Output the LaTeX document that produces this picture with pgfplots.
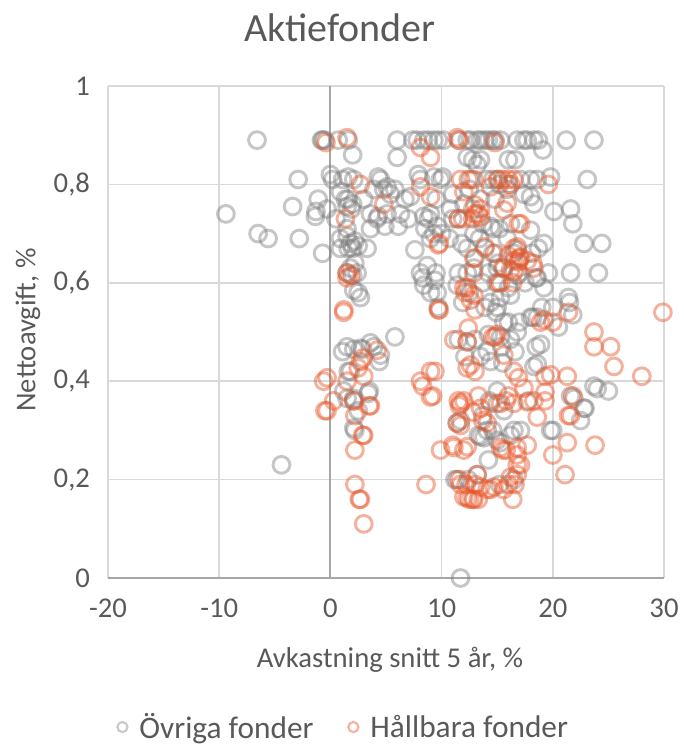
\documentclass[border=0pt]{standalone}
\usepackage{fontspec}
\setmainfont{Carlito}
\usepackage{pgfplots}
\pgfplotsset{compat=1.18}
\definecolor{txt}{RGB}{89,89,89}
\definecolor{gridc}{RGB}{217,217,217}
\definecolor{axisc}{RGB}{166,166,166}
\definecolor{grayc}{RGB}{120,120,120}
\definecolor{orangec}{RGB}{230,85,40}
\begin{document}
\begin{tikzpicture}
\useasboundingbox (0,0) rectangle (513pt,567pt);
\begin{axis}[
  at={(81pt,133.5pt)}, anchor=south west,
  scale only axis, width=417pt, height=369pt,
  xmin=-20, xmax=30, ymin=0, ymax=1,
  clip=false,
  axis line style={draw=none},
  major tick length=0pt,
  xtick={-20,-10,0,10,20,30},
  xticklabels={-20,-10,0,10,20,30},
  ytick={0,0.2,0.4,0.6,0.8,1},
  yticklabels={0,{0,2},{0,4},{0,6},{0,8},1},
  xticklabel style={font=\fontsize{21.5}{24}\selectfont, text=txt, yshift=-12pt},
  yticklabel style={font=\fontsize{21.5}{24}\selectfont, text=txt, xshift=-10pt},
  grid=major,
  major grid style={draw=gridc, line width=1.1pt},
  extra x ticks={0}, extra x tick labels={},
  extra y ticks={0}, extra y tick labels={},
  extra tick style={major grid style={draw=axisc, line width=1.5pt}},
  legend columns=2,
  legend style={at={(0.4245,-0.303)}, anchor=center, draw=none, fill=none,
    font=\fontsize{23.5}{27}\selectfont, text=txt,
    /tikz/every odd column/.append style={column sep=7pt},
    /tikz/every even column/.append style={column sep=24pt}},
]
\addlegendimage{only marks, mark=o, mark size=3.8pt, mark options={draw=grayc, draw opacity=0.4, line width=1.6pt}}
\addlegendentry{Övriga fonder}
\addlegendimage{only marks, mark=o, mark size=3.8pt, mark options={draw=orangec, draw opacity=0.45, line width=1.6pt}}
\addlegendentry{Hållbara fonder}

% Övriga fonder
\addplot[forget plot, only marks, mark=o, mark size=6.3pt, mark options={draw=grayc, draw opacity=0.42, line width=2.2pt}] coordinates {
(-6.6,0.89)(-0.8,0.89)(-0.7,0.89)(-0.5,0.89)(0.7,0.89)(1.6,0.89)(6.0,0.89)(7.4,0.89)(7.8,0.89)(8.4,0.89)(8.8,0.89)(9.3,0.89)(9.7,0.89)(10.2,0.89)(11.5,0.89)(12.3,0.89)(12.6,0.89)(13.2,0.89)(13.5,0.89)(13.9,0.89)(14.2,0.89)(14.6,0.89)(14.8,0.89)(15.3,0.89)(16.8,0.89)(17.4,0.89)(17.7,0.89)(18.3,0.89)(18.7,0.89)(21.2,0.89)(23.7,0.89)
(2.0,0.86)(6.0,0.855)(12.3,0.855)(12.8,0.85)(13.2,0.84)(13.5,0.85)(16.0,0.85)(16.6,0.85)(19.1,0.87)
(-2.9,0.81)(0.0,0.82)(0.2,0.81)(1.1,0.81)(1.6,0.815)(2.1,0.81)(4.3,0.815)(4.5,0.81)(7.9,0.82)(8.1,0.81)(9.3,0.815)(9.9,0.81)(10.1,0.815)(12.6,0.81)(14.1,0.81)(14.6,0.81)(15.1,0.81)(17.1,0.81)(18.0,0.81)(18.6,0.81)(19.8,0.815)(23.1,0.81)(15.2,0.80)(16.0,0.80)
(-1.1,0.77)(0.9,0.785)(1.35,0.77)(1.6,0.77)(2.0,0.76)(3.0,0.77)(3.9,0.79)(4.8,0.79)(5.1,0.795)(5.4,0.78)(5.8,0.79)(6.7,0.77)(7.2,0.775)(13.5,0.77)(15.9,0.79)(18.0,0.775)(18.3,0.76)(17.4,0.78)(14.8,0.77)(12.5,0.79)(11.0,0.78)(9.5,0.77)(10.8,0.75)(12.0,0.76)
(-9.4,0.74)(-3.4,0.755)(-1.3,0.745)(-1.35,0.735)(-0.3,0.75)(0.5,0.73)(1.5,0.755)(1.9,0.75)(1.5,0.71)(3.6,0.74)(4.2,0.73)(4.3,0.735)(5.1,0.74)(6.1,0.715)(6.3,0.74)(7.0,0.73)(8.4,0.735)(8.8,0.73)(9.0,0.74)(3.6,0.71)(4.9,0.715)(9.3,0.70)(9.6,0.715)(10.0,0.70)(11.5,0.73)(12.8,0.75)(13.7,0.72)(14.4,0.715)(16.2,0.72)(18.0,0.707)(20.1,0.745)(21.6,0.75)(21.8,0.72)(15.2,0.71)(14.6,0.71)(11.0,0.73)
(-6.5,0.70)(-5.6,0.69)(-2.8,0.69)(-0.7,0.66)(0.9,0.69)(0.9,0.67)(1.5,0.695)(1.8,0.68)(2.0,0.67)(1.6,0.67)(2.2,0.685)(2.5,0.675)(3.3,0.67)(7.6,0.667)(8.5,0.71)(9.0,0.69)(10.7,0.69)(11.8,0.68)(12.3,0.67)(12.9,0.70)(13.4,0.69)(13.9,0.67)(15.9,0.69)(16.5,0.66)(16.8,0.667)(18.1,0.66)(18.7,0.67)(19.2,0.68)(22.8,0.68)(24.4,0.68)
(1.5,0.62)(1.8,0.63)(2.0,0.615)(2.4,0.62)(2.2,0.64)(8.7,0.635)(8.1,0.62)(8.3,0.61)(8.4,0.595)(9.4,0.605)(9.5,0.62)(11.4,0.595)(11.5,0.62)(12.3,0.62)(12.9,0.63)(13.0,0.65)(13.7,0.60)(14.2,0.62)(14.6,0.66)(15.0,0.63)(15.1,0.64)(15.5,0.63)(14.9,0.60)(16.0,0.59)(16.8,0.615)(17.0,0.62)(17.5,0.60)(18.6,0.61)(18.5,0.61)(19.2,0.59)(19.6,0.62)(21.6,0.62)(24.1,0.62)
(2.1,0.585)(2.5,0.58)(2.7,0.57)(9.0,0.58)(9.6,0.58)(9.7,0.55)(11.9,0.56)(12.5,0.58)(13.9,0.55)(14.4,0.56)(15.0,0.55)(15.3,0.57)(16.2,0.575)(14.9,0.54)(17.0,0.52)(16.0,0.52)(15.6,0.52)(18.0,0.53)(18.2,0.53)(18.6,0.53)(19.0,0.55)(20.0,0.55)(21.4,0.57)(21.5,0.56)(21.8,0.535)(20.5,0.51)
(5.8,0.49)(1.1,0.46)(1.5,0.47)(2.1,0.465)(2.7,0.467)(2.9,0.465)(3.6,0.478)(3.9,0.47)(4.4,0.44)(4.5,0.453)(1.8,0.42)(1.6,0.42)(11.5,0.485)(12.3,0.48)(13.0,0.485)(14.2,0.495)(15.3,0.49)(16.8,0.50)(16.2,0.485)(14.1,0.46)(15.4,0.47)(16.6,0.46)(18.9,0.475)(18.5,0.47)(14.4,0.44)(15.5,0.437)(18.3,0.43)(13.5,0.45)(12.1,0.45)(18.6,0.435)
(1.2,0.38)(1.5,0.365)(2.1,0.36)(2.1,0.365)(3.4,0.375)(3.5,0.38)(2.5,0.34)(15.0,0.355)(15.6,0.34)(14.3,0.36)(15.0,0.38)(17.8,0.36)(21.6,0.37)(21.9,0.365)(22.8,0.345)(22.9,0.345)(23.7,0.39)(24.0,0.385)(25.0,0.38)(13.7,0.33)(22.5,0.32)(11.7,0.32)
(2.2,0.30)(2.1,0.305)(11.4,0.315)(14.1,0.30)(14.6,0.30)(16.5,0.30)(20.0,0.30)(19.8,0.30)(17.1,0.30)(16.2,0.29)(15.0,0.28)(13.8,0.285)(13.5,0.287)(15.3,0.275)(13.3,0.29)
(-4.4,0.23)(14.2,0.24)(13.2,0.21)(12.4,0.20)(11.2,0.20)(11.4,0.20)(16.5,0.20)(15.2,0.19)(11.7,0.0)
};

% Hållbara fonder
\addplot[forget plot, only marks, mark=o, mark size=6.3pt, mark options={draw=orangec, draw opacity=0.45, line width=2.2pt}] coordinates {
(-0.4,0.885)(1.5,0.895)(2.7,0.80)(4.8,0.76)(1.35,0.73)(1.5,0.62)(1.8,0.615)(1.5,0.61)(1.2,0.545)(1.2,0.54)
(8.1,0.875)(9.0,0.855)(11.4,0.895)(11.6,0.89)(14.8,0.885)(8.1,0.795)(9.0,0.775)(11.7,0.81)(12.4,0.81)(12.9,0.81)(15.0,0.81)(15.5,0.81)(16.0,0.81)(16.5,0.81)(16.2,0.80)(19.6,0.80)(12.0,0.785)(14.4,0.795)(13.0,0.758)(13.5,0.75)(13.3,0.74)(13.0,0.74)(12.8,0.73)(13.5,0.734)(15.6,0.748)(15.9,0.762)(11.5,0.73)(11.9,0.73)(17.1,0.72)(16.9,0.72)(9.7,0.677)(9.8,0.68)(13.9,0.673)(16.8,0.673)(17.1,0.652)(16.5,0.67)
(12.9,0.65)(14.8,0.66)(16.0,0.655)(16.5,0.645)(17.0,0.65)(15.6,0.63)(16.5,0.622)(16.9,0.643)(18.2,0.64)(18.3,0.63)(17.7,0.645)(16.2,0.626)(15.3,0.60)(15.1,0.60)(16.4,0.60)(12.9,0.62)(12.9,0.575)(12.0,0.59)(12.3,0.59)(12.1,0.58)(12.6,0.565)(9.8,0.545)(9.7,0.545)(13.0,0.545)(19.2,0.525)(20.0,0.52)(18.9,0.52)(21.4,0.54)(29.9,0.54)(12.4,0.508)(11.1,0.484)(12.3,0.48)(14.8,0.49)(15.0,0.495)(14.6,0.49)(15.6,0.453)(12.6,0.433)(13.0,0.42)(23.7,0.50)(23.7,0.47)(25.2,0.47)(25.5,0.43)(28.0,0.41)(21.3,0.41)(19.3,0.41)(19.8,0.413)(16.9,0.407)(16.5,0.42)(12.3,0.427)(9.4,0.42)(9.0,0.42)(8.3,0.39)(8.1,0.40)(9.2,0.37)(9.0,0.368)(17.4,0.386)(19.3,0.378)
(4.2,0.463)(2.9,0.447)(2.7,0.44)(2.5,0.427)(-0.3,0.407)(-0.6,0.40)(1.5,0.40)(3.0,0.41)(0.3,0.36)(-0.5,0.34)(-0.3,0.34)(2.1,0.36)(3.5,0.35)(3.6,0.35)(2.2,0.33)(2.9,0.29)(3.0,0.29)(2.2,0.26)(2.2,0.19)(2.6,0.16)(2.7,0.16)(3.0,0.11)
(11.5,0.36)(11.6,0.35)(11.7,0.355)(12.0,0.36)(13.3,0.37)(13.5,0.345)(14.4,0.355)(15.3,0.355)(15.8,0.36)(16.0,0.37)(16.5,0.355)(17.7,0.358)(18.3,0.36)(18.6,0.327)(19.3,0.36)(21.6,0.33)(21.8,0.37)(21.4,0.33)(12.8,0.337)(14.1,0.315)(13.7,0.32)(11.4,0.315)(11.7,0.31)(9.9,0.26)(11.1,0.265)(11.0,0.27)(12.3,0.267)(12.0,0.26)(15.5,0.26)(15.3,0.265)(15.8,0.26)(16.8,0.265)(16.8,0.25)(17.7,0.27)(20.0,0.25)(21.3,0.275)(23.8,0.27)(16.8,0.23)(17.1,0.23)(16.8,0.21)(16.2,0.205)(21.1,0.21)(8.6,0.19)(11.7,0.19)(13.2,0.21)(12.2,0.19)(13.0,0.19)(13.5,0.185)(14.1,0.18)(14.4,0.18)(14.7,0.185)(15.6,0.18)(16.0,0.19)(16.6,0.19)(12.3,0.163)(12.0,0.165)(12.5,0.16)(12.8,0.16)(13.3,0.16)(16.4,0.16)(12.9,0.16)(11.6,0.2)
};
\end{axis}
\node[font=\fontsize{30}{34}\selectfont, text=txt] at (255pt,546pt) {Aktiefonder};
\node[font=\fontsize{21.5}{24}\selectfont, text=txt] at (292.5pt,72pt) {Avkastning snitt 5 år, \%};
\node[font=\fontsize{21.5}{24}\selectfont, text=txt, rotate=90] at (21pt,319.5pt) {Nettoavgift, \%};
\end{tikzpicture}
\end{document}
